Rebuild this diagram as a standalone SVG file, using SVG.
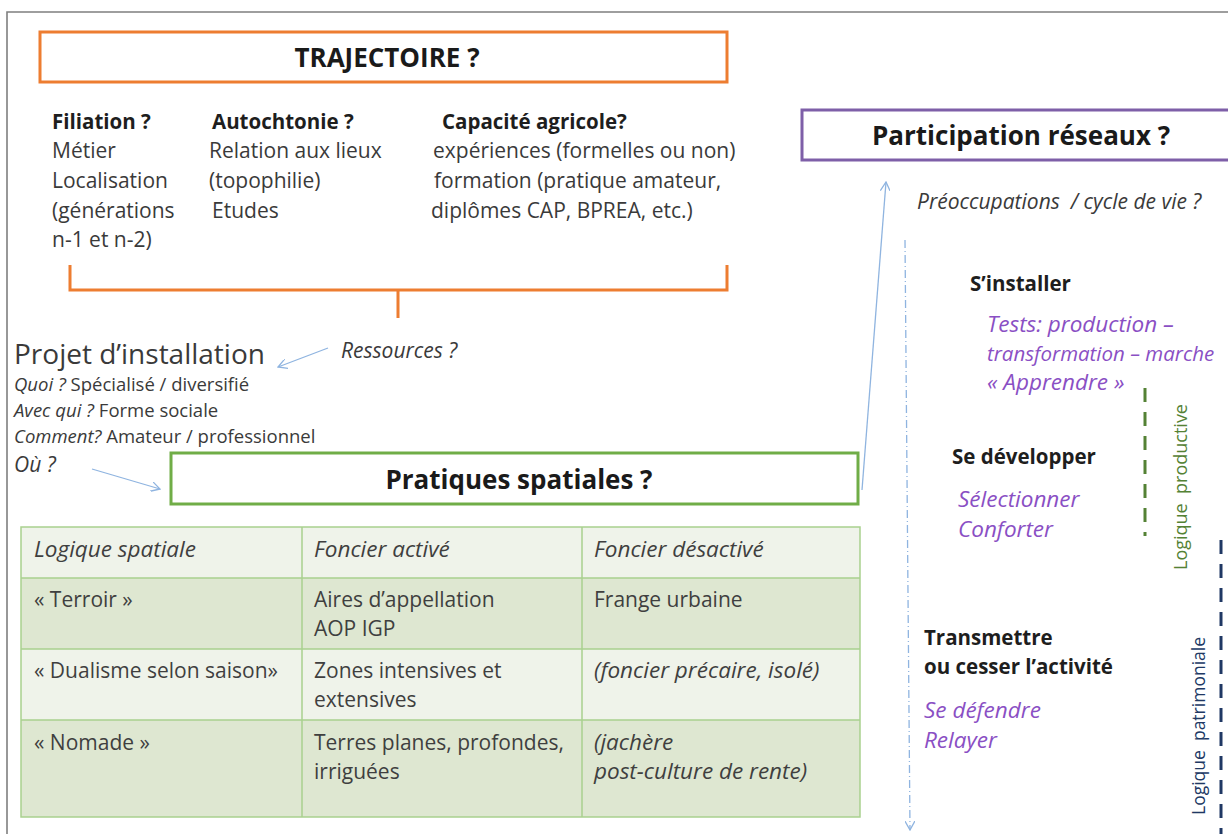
<svg xmlns="http://www.w3.org/2000/svg" width="1228" height="834" viewBox="0 0 1228 834">
<style>
text{font-family:"Open Sans","Liberation Sans",sans-serif;fill:#3a3a3a}
.t{font-size:21px}
.ti{font-size:21px;font-style:italic}
.bt{font-size:20.5px;font-weight:bold;fill:#1e1e1e}
.h{font-size:26px;font-weight:bold;fill:#1a1a1a}
.i{font-style:italic}
.p{font-style:italic;fill:#8a4fc4;font-size:22.5px}
.s{font-size:18.5px}
.tb{font-size:21px;fill:#3f3f3f}
.tbi{font-size:22.5px;font-style:italic;fill:#3f3f3f}
.blue{stroke:#8fb4e0;stroke-width:1.3;fill:none}
</style>
<defs>
<marker id="ah" viewBox="0 0 10 10" refX="9" refY="5" markerWidth="10" markerHeight="10" markerUnits="userSpaceOnUse" orient="auto">
<path d="M0,0 L9,5 L0,10" fill="none" stroke="#8fb4e0" stroke-width="1.3"/>
</marker>
</defs>
<rect width="1228" height="834" fill="#fff"/>
<path d="M7,834 V12 H1228" fill="none" stroke="#7f7f7f" stroke-width="1.6"/>

<g id="trajectoire">
<rect x="40" y="32" width="687" height="50" fill="#fff" stroke="#ED7D31" stroke-width="3"/>
<text x="387" y="67" class="h" text-anchor="middle">TRAJECTOIRE ?</text>
</g>

<g id="filiation">
<text x="52" y="129" class="bt">Filiation ?</text>
<text x="52" y="158" class="t">Métier</text>
<text x="52" y="188" class="t">Localisation</text>
<text x="52" y="218" class="t">(générations</text>
<text x="52" y="247" class="t">n-1 et n-2)</text>
</g>
<g id="autochtonie">
<text x="212" y="129" class="bt">Autochtonie ?</text>
<text x="209" y="158" class="t">Relation aux lieux</text>
<text x="209" y="188" class="t">(topophilie)</text>
<text x="212" y="218" class="t">Etudes</text>
</g>
<g id="capacite">
<text x="442" y="129" class="bt">Capacité agricole?</text>
<text x="433" y="158" class="t">expériences (formelles ou non)</text>
<text x="434" y="188" class="t">formation (pratique amateur,</text>
<text x="431" y="218" class="t">diplômes CAP, BPREA, etc.)</text>
</g>

<g id="projet">
<text x="14" y="364" font-size="28" fill="#2a2a2a">Projet d’installation</text>
<text x="14" y="391" class="s"><tspan class="i">Quoi ?</tspan> Spécialisé / diversifié</text>
<text x="14" y="417" class="s"><tspan class="i">Avec qui ?</tspan> Forme sociale</text>
<text x="14" y="443" class="s"><tspan class="i">Comment?</tspan> Amateur / professionnel</text>
<text x="14" y="472" class="ti" font-size="23">Où ?</text>
</g>
<g id="ressources">
<text x="341" y="358" class="ti" font-size="22">Ressources ?</text>
</g>

<g id="pratiques">
<rect x="171" y="453" width="687" height="51" fill="#fff" stroke="#70AD47" stroke-width="3"/>
<text x="519" y="489" class="h" text-anchor="middle">Pratiques spatiales ?</text>
</g>

<g id="table">
<rect x="21" y="527" width="839" height="51" fill="#EFF3EA"/>
<rect x="21" y="578" width="839" height="71" fill="#DEE7D1"/>
<rect x="21" y="649" width="839" height="71" fill="#EFF3EA"/>
<rect x="21" y="720" width="839" height="97" fill="#DEE7D1"/>
<g stroke="#A9D18E" stroke-width="1.5" fill="none">
<rect x="21" y="527" width="839" height="290"/>
<path d="M21,578 H860 M21,649 H860 M21,720 H860 M302,527 V817 M582,527 V817"/>
</g>
<text x="34" y="557" class="tbi">Logique spatiale</text>
<text x="314" y="557" class="tbi">Foncier activé</text>
<text x="594" y="557" class="tbi">Foncier désactivé</text>
<text x="34" y="607" class="tb">« Terroir »</text>
<text x="314" y="607" class="tb">Aires d’appellation</text>
<text x="314" y="636" class="tb">AOP IGP</text>
<text x="594" y="607" class="tb">Frange urbaine</text>
<text x="34" y="678" class="tb">« Dualisme selon saison»</text>
<text x="314" y="678" class="tb">Zones intensives et</text>
<text x="314" y="707" class="tb">extensives</text>
<text x="594" y="678" class="tbi">(foncier précaire, isolé)</text>
<text x="34" y="750" class="tb">« Nomade »</text>
<text x="314" y="750" class="tb">Terres planes, profondes,</text>
<text x="314" y="779" class="tb">irriguées</text>
<text x="594" y="750" class="tbi">(jachère</text>
<text x="594" y="779" class="tbi">post-culture de rente)</text>
</g>

<g id="participation">
<rect x="802" y="110" width="440" height="50" fill="#fff" stroke="#7E5FA8" stroke-width="3"/>
<text x="872" y="145" class="h">Participation réseaux ?</text>
</g>
<g id="preoccupations">
<text x="917" y="209" class="ti">Préoccupations&#160; / cycle de vie ?</text>
</g>

<g id="installer">
<text x="970" y="291" class="bt">S’installer</text>
<text x="987" y="332" class="p">Tests: production –</text>
<text x="987" y="361" class="p" style="font-size:20.5px">transformation – marche</text>
<text x="987" y="390" class="p">« Apprendre »</text>
</g>
<g id="developper">
<text x="952" y="464" class="bt">Se développer</text>
<text x="958" y="507" class="p">Sélectionner</text>
<text x="958" y="537" class="p">Conforter</text>
</g>
<g id="transmettre">
<text x="924" y="645" class="bt">Transmettre</text>
<text x="924" y="674" class="bt">ou cesser l’activité</text>
<text x="924" y="718" class="p">Se défendre</text>
<text x="924" y="748" class="p">Relayer</text>
</g>
<g id="logique-productive">
<path d="M1145,388 V536" stroke="#548235" stroke-width="3" stroke-dasharray="14,10"/>
<text transform="translate(1187,570) rotate(-90)" font-size="18" style="fill:#548235">Logique&#160; productive</text>
</g>
<g id="logique-patrimoniale">
<path d="M1221,540 V834" stroke="#203864" stroke-width="3" stroke-dasharray="14,10"/>
<text transform="translate(1205,815) rotate(-90)" font-size="17.5" style="fill:#203864">Logique&#160; patrimoniale</text>
</g>

<g id="connectors">
<path d="M70,265 V290 H727 V265 M398,290 V318" fill="none" stroke="#ED7D31" stroke-width="3"/>
<path class="blue" d="M328,348 L278,367" marker-end="url(#ah)"/>
<path class="blue" d="M92,469 L160,489" marker-end="url(#ah)"/>
<path class="blue" d="M862,490 L886,182" marker-end="url(#ah)"/>
<path class="blue" d="M905,240 L910,830" stroke-dasharray="8,3,1,3" marker-end="url(#ah)"/>
</g>
</svg>
